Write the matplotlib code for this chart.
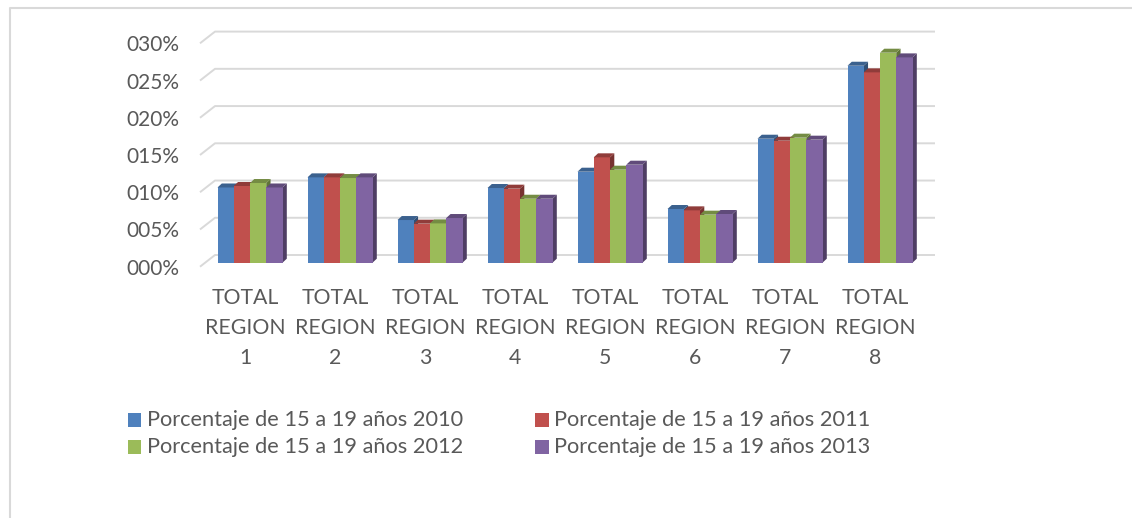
import matplotlib
matplotlib.use("Agg")
import matplotlib.pyplot as plt
from matplotlib.patches import Polygon, Rectangle
from matplotlib.lines import Line2D
import numpy as np

plt.rcParams['font.family'] = ['Lato', 'DejaVu Sans']

categories = ["TOTAL\nREGION\n1", "TOTAL\nREGION\n2", "TOTAL\nREGION\n3", "TOTAL\nREGION\n4",
              "TOTAL\nREGION\n5", "TOTAL\nREGION\n6", "TOTAL\nREGION\n7", "TOTAL\nREGION\n8"]
series_names = ["Porcentaje de 15 a 19 años 2010", "Porcentaje de 15 a 19 años 2011",
                "Porcentaje de 15 a 19 años 2012", "Porcentaje de 15 a 19 años 2013"]
v2010 = [0.101, 0.1146, 0.0573, 0.1003, 0.1222, 0.0721, 0.1665, 0.2645]
v2011 = [0.103, 0.1146, 0.0524, 0.0994, 0.1415, 0.0703, 0.1638, 0.2556]
v2012 = [0.107, 0.1137, 0.0528, 0.0859, 0.1249, 0.0645, 0.1679, 0.2820]
v2013 = [0.101, 0.1146, 0.0600, 0.0859, 0.1316, 0.0654, 0.1652, 0.2757]
yticks = [0.0, 0.05, 0.10, 0.15, 0.20, 0.25, 0.30]
ytick_labels = ["000%", "005%", "010%", "015%", "020%", "025%", "030%"]

series = [v2010, v2011, v2012, v2013]
colors = ["#4F81BD", "#C0504D", "#9BBB59", "#8064A2"]
text_color = "#595959"
grid_color = "#D9D9D9"

W, H = 1132, 518
fig = plt.figure(figsize=(W / 100, H / 100), dpi=100)
fig.patch.set_facecolor("white")

ax_l, ax_r, ax_top, ax_bot = 200, 920, 43.3, 266.7
ax = fig.add_axes([ax_l / W, (H - ax_bot) / H, (ax_r - ax_l) / W, (ax_bot - ax_top) / H])
ax.set_xlim(-0.5, len(categories) - 0.5)
ax.set_ylim(0, 0.30)
for s in ax.spines.values():
    s.set_visible(False)
ax.patch.set_alpha(0)

px_x = (len(categories)) / (ax_r - ax_l)       # data units per pixel (x)
px_y = 0.30 / (ax_bot - ax_top)                 # data units per pixel (y)

# floor / wall depth
Dx, Dy = 15 * px_x, 11.7 * px_y
for v in yticks:
    ax.plot([-0.5, -0.5 + Dx, len(categories) - 0.5 + Dx], [v, v + Dy, v + Dy],
            color=grid_color, lw=1.4, zorder=1, clip_on=False, solid_capstyle='butt')

def shade(c, f):
    r, g, b = matplotlib.colors.to_rgb(c)
    return (r * f, g * f, b * f)

bw = 16.25 * px_x
bx, by = 5 * px_x, 4 * px_y
ddx, ddy = 4.3 * px_x, 4 * px_y
x = np.arange(len(categories))
z = 2
for i in range(len(categories)):
    for j, vals in enumerate(series):
        xl = x[i] + (j - 2) * bw + bx
        xr = xl + bw
        top = by + vals[i]
        ax.add_patch(Polygon([(xr, by), (xr, top), (xr + ddx, top + ddy), (xr + ddx, by + ddy)],
                             closed=True, facecolor=shade(colors[j], 0.62), edgecolor='none',
                             zorder=z, clip_on=False))
        ax.bar([xl], [vals[i]], width=bw, bottom=by, align='edge', color=colors[j],
               edgecolor='none', zorder=z + 0.1, clip_on=False)
        ax.add_patch(Polygon([(xl, top), (xr, top), (xr + ddx, top + ddy), (xl + ddx, top + ddy)],
                             closed=True, facecolor=shade(colors[j], 0.75), edgecolor='none',
                             zorder=z + 0.2, clip_on=False))
        z += 1

ax.set_yticks(yticks)
ax.set_yticklabels(ytick_labels)
ax.set_xticks(x)
ax.set_xticklabels(categories, linespacing=1.64)
ax.tick_params(axis='y', length=0, pad=15, labelsize=15, labelcolor=text_color)
ax.tick_params(axis='x', length=0, pad=15, labelsize=15.3, labelcolor=text_color)

# legend (manual, two columns)
leg_pos = [(127.5, 419.7), (535, 419.7), (127.5, 447.3), (535, 447.3)]
for (lx, ly), name, c in zip(leg_pos, series_names, colors):
    fig.patches.append(Rectangle((lx / W, (H - ly - 7) / H), 13.5 / W, 14 / H,
                                 transform=fig.transFigure, facecolor=c, edgecolor='none'))
    fig.text((lx + 19.5) / W, (H - ly) / H, name, fontsize=15.7, color=text_color,
             va='center', ha='left')

# chart-area border (left and top visible)
fig.add_artist(Line2D([10 / W, 10 / W, 1.0], [0.0, (H - 8) / H, (H - 8) / H],
                      transform=fig.transFigure, color=grid_color, lw=1.5))

fig.savefig("out.png", dpi=100, facecolor="white")
